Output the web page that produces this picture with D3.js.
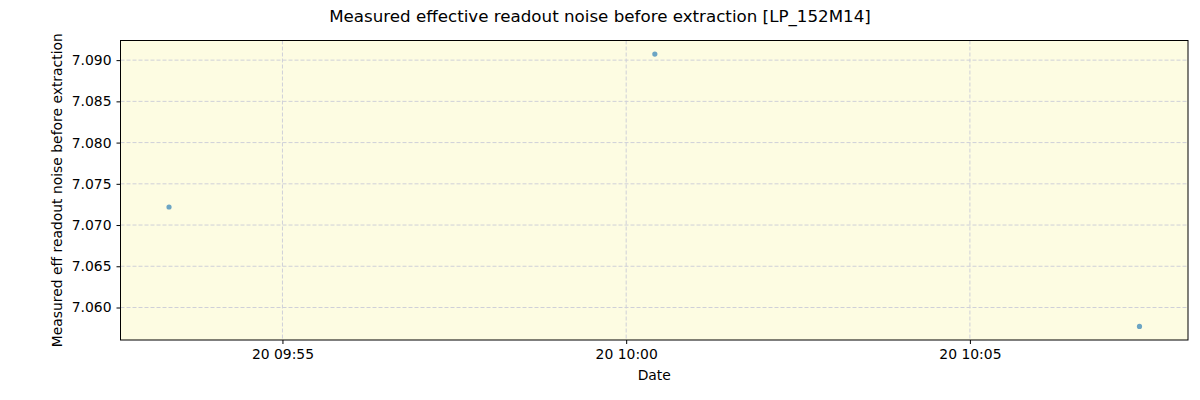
<!DOCTYPE html>
<html>
<head>
<meta charset="utf-8">
<script src="https://cdn.jsdelivr.net/npm/d3@7"></script>
<style>
  body { margin: 0; background: #ffffff; }
  text { font-family: "DejaVu Sans", sans-serif; }
</style>
</head>
<body>
<svg id="chart"></svg>
<script>
// data
var times = ['2024-01-20T09:53:21', '2024-01-20T10:00:25', '2024-01-20T10:07:28']
var noise = [7.07219, 7.09073, 7.05771]
var yTicks = [7.060, 7.065, 7.070, 7.075, 7.080, 7.085, 7.090]
var xTicks = ['2024-01-20T09:55:00', '2024-01-20T10:00:00', '2024-01-20T10:05:00']

var parse = d3.isoParse
var pts = times.map(function(t, i){ return {t: parse(t), v: noise[i]} })

var screen = { width: 1200, height: 400 }
var margins = { top: 40.5, bottom: 60, left: 120.5, right: 12 }
var width = screen.width - margins.left - margins.right
var height = screen.height - margins.top - margins.bottom

var tExt = d3.extent(pts, function(d){ return d.t })
var tPad = (tExt[1] - tExt[0]) * 0.05
var vExt = d3.extent(pts, function(d){ return d.v })
var vPad = (vExt[1] - vExt[0]) * 0.05

var xScale = d3.scaleTime()
  .domain([new Date(+tExt[0] - tPad), new Date(+tExt[1] + tPad)])
  .range([0, width])

var yScale = d3.scaleLinear()
  .domain([vExt[0] - vPad, vExt[1] + vPad])
  .range([height, 0])

var svg = d3.select('#chart')
  .attr('width', screen.width)
  .attr('height', screen.height)

var plot = svg.append('g')
  .attr('transform', 'translate(' + margins.left + ',' + margins.top + ')')

plot.append('rect')
  .attr('width', width)
  .attr('height', height)
  .attr('fill', '#fdfce2')

// grid
plot.selectAll('.gx')
  .data(xTicks.map(parse))
  .enter()
  .append('line')
  .attr('x1', function(d){ return xScale(d) })
  .attr('x2', function(d){ return xScale(d) })
  .attr('y1', 0)
  .attr('y2', height)
  .attr('stroke', '#cfd0d8')
  .attr('stroke-width', 1)
  .attr('stroke-dasharray', '4,2')

plot.selectAll('.gy')
  .data(yTicks)
  .enter()
  .append('line')
  .attr('x1', 0)
  .attr('x2', width)
  .attr('y1', function(d){ return yScale(d) })
  .attr('y2', function(d){ return yScale(d) })
  .attr('stroke', '#cfd0d8')
  .attr('stroke-width', 1)
  .attr('stroke-dasharray', '4,2')

// points
plot.selectAll('circle')
  .data(pts)
  .enter()
  .append('circle')
  .attr('cx', function(d){ return xScale(d.t) })
  .attr('cy', function(d){ return yScale(d.v) })
  .attr('r', 2.6)
  .attr('fill', '#1f77b4')
  .attr('fill-opacity', 0.65)

// axes
var xAxis = d3.axisBottom(xScale)
  .tickValues(xTicks.map(parse))
  .tickFormat(d3.timeFormat('%d %H:%M'))
  .tickSize(4)
  .tickPadding(5)

var yAxis = d3.axisLeft(yScale)
  .tickValues(yTicks)
  .tickFormat(d3.format('.3f'))
  .tickSize(4)
  .tickPadding(5)

var gx = plot.append('g')
  .attr('transform', 'translate(0,' + height + ')')
  .call(xAxis)
var gy = plot.append('g').call(yAxis)

;[gx, gy].forEach(function(g){
  g.select('.domain').remove()
  g.selectAll('text')
    .attr('font-family', '"DejaVu Sans", sans-serif')
    .attr('font-size', '13.9px')
    .attr('fill', '#000')
  g.selectAll('line').attr('stroke', '#000').attr('stroke-width', 1)
})

plot.append('rect')
  .attr('width', width)
  .attr('height', height)
  .attr('fill', 'none')
  .attr('stroke', '#000')
  .attr('stroke-width', 1)

svg.append('text')
  .attr('x', 600)
  .attr('y', 22)
  .attr('text-anchor', 'middle')
  .attr('font-size', '16.7px')
  .text('Measured effective readout noise before extraction [LP_152M14]')

svg.append('text')
  .attr('x', margins.left + width / 2)
  .attr('y', 380)
  .attr('text-anchor', 'middle')
  .attr('font-size', '13.9px')
  .text('Date')

svg.append('text')
  .attr('transform', 'translate(62,' + (margins.top + height / 2) + ') rotate(-90)')
  .attr('text-anchor', 'middle')
  .attr('font-size', '13.9px')
  .text('Measured eff readout noise before extraction')
</script>
</body>
</html>
